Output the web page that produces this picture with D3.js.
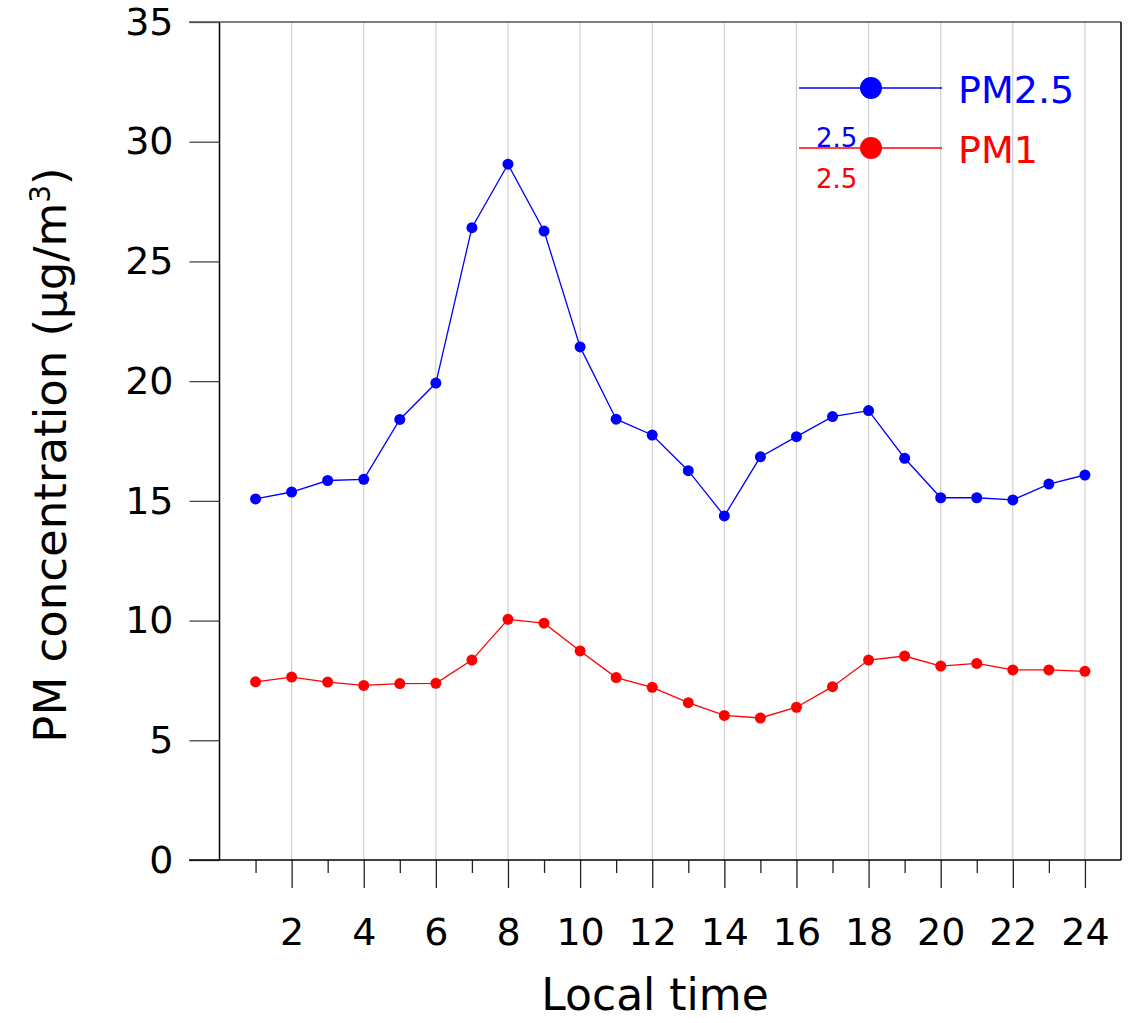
<!DOCTYPE html>
<html>
<head>
<meta charset="UTF-8">
<title>PM diurnal variation</title>
<style>
body { margin: 0; background: #fff; }
svg text { font-family: "Comic Sans MS", "DejaVu Sans", sans-serif; }
.grid line { stroke: #d0d0d0; stroke-width: 1.2px; }
</style>
</head>
<body>
<svg></svg>
<script src="https://d3js.org/d3.v7.min.js"></script>
<script>

// hourly means
var hours = [1, 2, 3, 4, 5, 6, 7, 8, 9, 10, 11, 12, 13, 14, 15, 16, 17, 18, 19, 20, 21, 22, 23, 24];
var pm25 = [15.08, 15.37, 15.85, 15.9, 18.4, 19.92, 26.41, 29.06, 26.27, 21.43, 18.41, 17.75,
            16.26, 14.37, 16.84, 17.68, 18.52, 18.77, 16.78, 15.13, 15.13, 15.04, 15.7, 16.08];
var pm1 = [7.44, 7.64, 7.43, 7.29, 7.37, 7.38, 8.35, 10.05, 9.89, 8.73, 7.62, 7.21,
           6.57, 6.04, 5.93, 6.38, 7.24, 8.35, 8.52, 8.1, 8.21, 7.94, 7.94, 7.88];
var yTicks = [0, 5, 10, 15, 20, 25, 30, 35];
var xMajor = [2, 4, 6, 8, 10, 12, 14, 16, 18, 20, 22, 24];
var xMinor = [1, 3, 5, 7, 9, 11, 13, 15, 17, 19, 21, 23];

var width = 1131, height = 1023;
// note: "top" is taken by window.top, so use plot* names
var plotL = 219.5, plotR = 1121, plotT = 22, plotB = 860;

var svg = d3.select('svg')
  .attr('width', width)
  .attr('height', height);

var x = d3.scaleLinear().domain([0, 25]).range([plotL, plotR]);
var y = d3.scaleLinear().domain([0, 35]).range([plotB, plotT]);

// vertical grid at even hours
svg.append('g')
  .attr('class', 'grid')
  .selectAll('line')
  .data(xMajor)
  .enter().append('line')
  .attr('x1', function (d) { return x(d); })
  .attr('x2', function (d) { return x(d); })
  .attr('y1', plotT)
  .attr('y2', plotB);

// y axis
var yAxis = svg.append('g')
  .attr('transform', 'translate(' + plotL + ',0)')
  .call(d3.axisLeft(y).tickValues(yTicks).tickSize(30).tickPadding(16));
yAxis.select('.domain').remove();
yAxis.selectAll('line').attr('stroke', '#444').attr('stroke-width', 1.3);
yAxis.selectAll('text')
  .attr('fill', '#000')
  .style('font-size', '38px');

// x axis: minor ticks then major ticks with labels
var xMin = svg.append('g')
  .attr('transform', 'translate(0,' + plotB + ')')
  .call(d3.axisBottom(x).tickValues(xMinor).tickSize(13).tickFormat(''));
xMin.select('.domain').remove();
xMin.selectAll('line').attr('stroke', '#222').attr('stroke-width', 1.3);

var xMaj = svg.append('g')
  .attr('transform', 'translate(0,' + plotB + ')')
  .call(d3.axisBottom(x).tickValues(xMajor).tickSize(28).tickPadding(30));
xMaj.select('.domain').remove();
xMaj.selectAll('line').attr('stroke', '#222').attr('stroke-width', 1.3);
xMaj.selectAll('text')
  .attr('fill', '#000')
  .style('font-size', '38px');

// frame
var frame = svg.append('g').attr('fill', 'none');
frame.append('line').attr('x1', 189).attr('x2', plotR).attr('y1', plotB).attr('y2', plotB)
  .attr('stroke', '#000').attr('stroke-width', 1.5);
frame.append('line').attr('x1', plotL).attr('x2', plotL).attr('y1', plotT).attr('y2', plotB)
  .attr('stroke', '#000').attr('stroke-width', 1.5);
frame.append('line').attr('x1', 189).attr('x2', plotR).attr('y1', plotT).attr('y2', plotT)
  .attr('stroke', '#555').attr('stroke-width', 1.5);
frame.append('line').attr('x1', plotR).attr('x2', plotR).attr('y1', plotT).attr('y2', plotB)
  .attr('stroke', '#000').attr('stroke-width', 1.5);

// series
var series = [
  { name: 'PM2.5', values: pm25, color: '#0000ff' },
  { name: 'PM1', values: pm1, color: '#ff0000' }
];

var line = d3.line()
  .x(function (d, i) { return x(hours[i]); })
  .y(function (d) { return y(d); });

series.forEach(function (s) {
  svg.append('path')
    .datum(s.values)
    .attr('d', line)
    .attr('fill', 'none')
    .attr('stroke', s.color)
    .attr('stroke-width', 1.3);

  svg.append('g')
    .selectAll('circle')
    .data(s.values)
    .enter().append('circle')
    .attr('cx', function (d, i) { return x(hours[i]); })
    .attr('cy', function (d) { return y(d); })
    .attr('r', 5.5)
    .attr('fill', s.color);
});

// legend
var legY = [88, 148];
series.forEach(function (s, i) {
  var g = svg.append('g');
  g.append('line')
    .attr('x1', 799).attr('x2', 942)
    .attr('y1', legY[i]).attr('y2', legY[i])
    .attr('stroke', s.color).attr('stroke-width', 1.3);
  g.append('circle')
    .attr('cx', 871).attr('cy', legY[i]).attr('r', 11)
    .attr('fill', s.color);
  g.append('text')
    .attr('x', 958).attr('y', legY[i] + 15)
    .attr('fill', s.color)
    .style('font-size', '38px')
    .text(s.name);
});

// stray subscript labels left in the legend
svg.append('text')
  .attr('x', 816).attr('y', 147)
  .attr('fill', '#0000ff')
  .style('font-size', '26px')
  .text('2.5');
svg.append('text')
  .attr('x', 816).attr('y', 188)
  .attr('fill', '#ff0000')
  .style('font-size', '26px')
  .text('2.5');

// axis titles
svg.append('text')
  .attr('x', 655).attr('y', 1010)
  .attr('text-anchor', 'middle')
  .style('font-size', '44px')
  .text('Local time');

var yl = svg.append('text')
  .attr('transform', 'translate(66,455) rotate(-90)')
  .attr('text-anchor', 'middle')
  .style('font-size', '45px');
yl.append('tspan').text('PM concentration (\u03bcg/m');
yl.append('tspan').attr('dy', -16).style('font-size', '28px').text('3');
yl.append('tspan').attr('dy', 16).text(')');

</script>
</body>
</html>
